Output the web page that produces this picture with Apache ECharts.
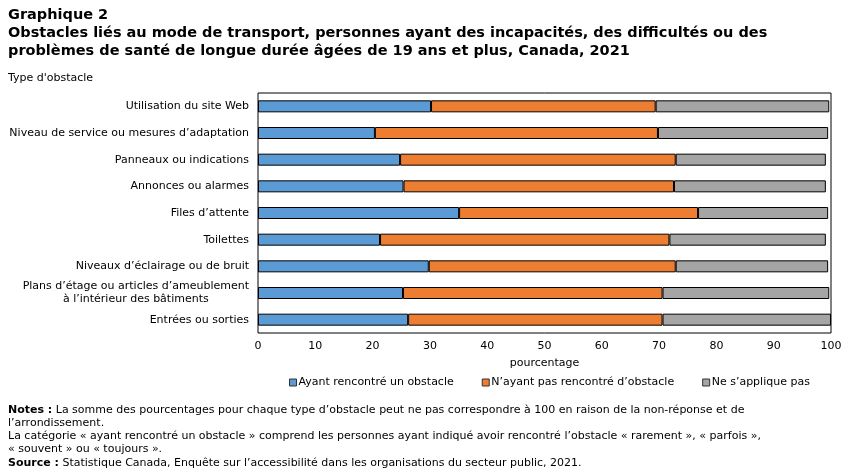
<!DOCTYPE html>
<html>
<head>
<meta charset="utf-8">
<script src="https://cdn.jsdelivr.net/npm/echarts@6/dist/echarts.min.js"></script>
<style>
  html, body { margin: 0; padding: 0; background: #fff; }
  #main { width: 852px; height: 473px; }
</style>
</head>
<body>
<div id="main"></div>
<script>
// obstacle types, top to bottom
var categories = [
  'Utilisation du site Web',
  'Niveau de service ou mesures d’adaptation',
  'Panneaux ou indications',
  'Annonces ou alarmes',
  'Files d’attente',
  'Toilettes',
  'Niveaux d’éclairage ou de bruit',
  'Plans d’étage ou articles d’ameublement\nà l’intérieur des bâtiments',
  'Entrées ou sorties'
];
var seriesNames = ['Ayant rencontré un obstacle', 'N’ayant pas rencontré d’obstacle', 'Ne s’applique pas'];
var encountered    = [30.2, 20.4, 24.8, 25.4, 35.1, 21.3, 29.8, 25.3, 26.2];
var notEncountered = [39.2, 49.4, 48.1, 47.2, 41.7, 50.5, 43.1, 45.3, 44.4];
var notApplicable  = [30.3, 29.7, 26.2, 26.5, 22.7, 27.3, 26.6, 29.1, 29.4];
var xTicks = [0, 10, 20, 30, 40, 50, 60, 70, 80, 90, 100];

var FONT = 'DejaVu Sans';
var colors = ['#5B9BD5', '#ED7D31', '#A5A5A5'];

var myChart = echarts.init(document.getElementById('main'));

function makeSeries(name, data, i) {
  return {
    name: name,
    type: 'bar',
    stack: 'total',
    barWidth: 12,
    data: data,
    itemStyle: { color: colors[i], borderColor: '#000', borderWidth: 1 },
    emphasis: { disabled: true }
  };
}

var option = {
  animation: false,
  textStyle: { fontFamily: FONT },
  grid: { left: 258, right: 21, top: 93, bottom: 140, show: true, borderColor: '#000', borderWidth: 1, containLabel: false },
  legend: {
    left: 284, top: 372,
    itemWidth: 7, itemHeight: 7, itemGap: 28,
    icon: 'rect',
    textStyle: { fontFamily: FONT, fontSize: 11, color: '#000', padding: [0, 0, 0, -3] },
    data: seriesNames.map(function (n, i) {
      return { name: n, itemStyle: { color: colors[i], borderColor: '#333', borderWidth: 1 } };
    })
  },
  xAxis: {
    type: 'value', min: xTicks[0], max: xTicks[xTicks.length - 1], interval: 10,
    name: 'pourcentage', nameLocation: 'middle', nameGap: 25,
    nameTextStyle: { fontFamily: FONT, fontSize: 11, color: '#000' },
    axisLine: { show: false }, axisTick: { show: false }, splitLine: { show: false },
    axisLabel: { fontFamily: FONT, fontSize: 11, color: '#000', margin: 8 }
  },
  yAxis: {
    type: 'category', inverse: true, data: categories,
    axisLine: { show: false }, axisTick: { show: false },
    axisLabel: {
      margin: 9, color: '#000', fontFamily: FONT, fontSize: 11, lineHeight: 13,
      formatter: function (v) {
        return v.split('\n').map(function (s) { return '{c|' + s + '}'; }).join('\n');
      },
      rich: { c: { align: 'center', fontFamily: FONT, fontSize: 11, color: '#000', lineHeight: 13 } }
    }
  },
  series: [
    makeSeries(seriesNames[0], encountered, 0),
    makeSeries(seriesNames[1], notEncountered, 1),
    makeSeries(seriesNames[2], notApplicable, 2)
  ],
  graphic: [
    {
      type: 'text', left: 8, top: 6,
      style: {
        text: 'Graphique 2\nObstacles liés au mode de transport, personnes ayant des incapacités, des difficultés ou des\nproblèmes de santé de longue durée âgées de 19 ans et plus, Canada, 2021',
        font: 'bold 14.5px "DejaVu Sans"', lineHeight: 18, fill: '#000'
      }
    },
    {
      type: 'text', left: 8, top: 73,
      style: { text: 'Type d\'obstacle', font: '11px "DejaVu Sans"', fill: '#000' }
    },
    {
      type: 'text', left: 8, top: 403,
      style: {
        text: '{b|Notes :} La somme des pourcentages pour chaque type d’obstacle peut ne pas correspondre à 100 en raison de la non-réponse et de\nl’arrondissement.\nLa catégorie « ayant rencontré un obstacle » comprend les personnes ayant indiqué avoir rencontré l’obstacle « rarement », « parfois »,\n« souvent » ou « toujours ».\n{b|Source :} Statistique Canada, Enquête sur l’accessibilité dans les organisations du secteur public, 2021.',
        font: '11px "DejaVu Sans"', lineHeight: 13.3, fill: '#000',
        rich: { b: { fontWeight: 'bold', fontFamily: FONT, fontSize: 11, lineHeight: 13.3 } }
      }
    }
  ]
};

myChart.setOption(option);
</script>
</body>
</html>
